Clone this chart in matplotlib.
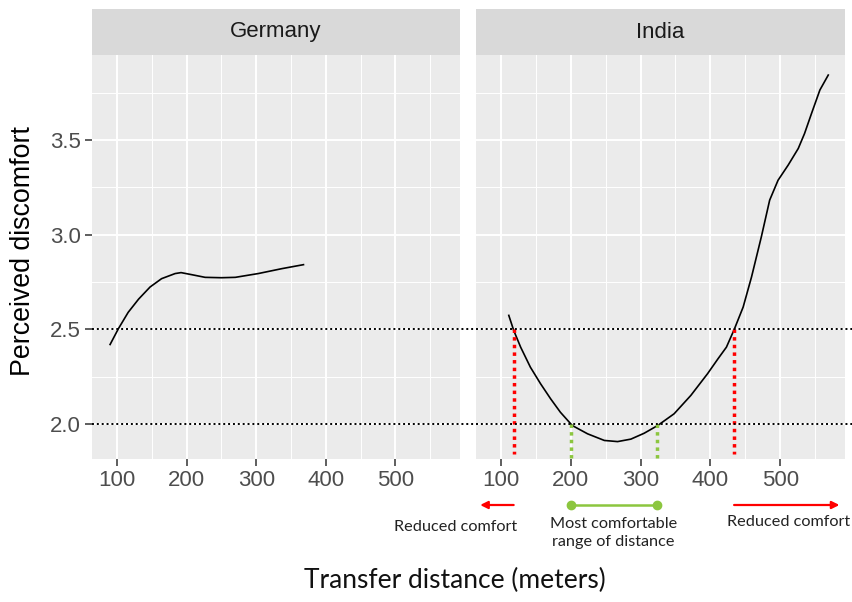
import matplotlib
matplotlib.use("Agg")
import matplotlib.pyplot as plt
from matplotlib.lines import Line2D
from matplotlib.patches import Rectangle
import matplotlib.transforms as mtransforms

# ---------------- data ----------------
panels = ["Germany", "India"]
germany_x = [90, 102, 116, 131, 147.5, 164, 183.5, 192, 207.5, 226.6, 250, 270, 303, 337, 368]
germany_y = [2.42, 2.504, 2.59, 2.66, 2.724, 2.768, 2.795, 2.80, 2.789, 2.775, 2.773, 2.775, 2.795, 2.821, 2.842]
india_x = [111, 118, 128, 142, 156.5, 171, 185, 202, 224, 248, 267, 286, 305, 324.5, 348, 372,
           396, 411, 423, 434, 447, 459, 473, 485, 497, 511.5, 526, 535, 545, 557, 569]
india_y = [2.574, 2.495, 2.406, 2.30, 2.213, 2.133, 2.062, 1.992, 1.948, 1.913, 1.907, 1.92, 1.951,
           1.992, 2.054, 2.151, 2.266, 2.345, 2.406, 2.498, 2.618, 2.777, 2.988, 3.183, 3.288,
           3.368, 3.456, 3.535, 3.641, 3.765, 3.844]
x_ticks = [100, 200, 300, 400, 500]
y_ticks = [2.0, 2.5, 3.0, 3.5]
ref_levels = [2.5, 2.0]
red_marks = [118, 434]
green_marks = [200, 323]

GRAY_BG = "#EBEBEB"
STRIP = "#D9D9D9"
RED = "#FF0000"
GREEN = "#8CC63F"

fig = plt.figure(figsize=(8.53, 6.02), dpi=100)
W, H = 853, 602

def fx(px):
    return px / W

def fy(py):
    return 1 - py / H

bottom = fy(459)
top = fy(55)
axes = []
for (l, r) in [(92, 460), (476, 845)]:
    ax = fig.add_axes([fx(l), bottom, fx(r) - fx(l), top - bottom])
    axes.append(ax)

strip_h = (fy(9) - top) / (top - bottom)

for i, ax in enumerate(axes):
    ax.set_facecolor(GRAY_BG)
    ax.set_xlim(64, 593)
    ax.set_ylim(1.815, 3.95)
    ax.set_xticks(x_ticks)
    ax.set_xticks([150, 250, 350, 450, 550], minor=True)
    ax.set_yticks(y_ticks)
    ax.set_yticks([2.25, 2.75, 3.25, 3.75], minor=True)
    ax.grid(which="major", color="white", linewidth=1.4)
    ax.grid(which="minor", color="white", linewidth=0.7)
    ax.set_axisbelow(True)
    for s in ax.spines.values():
        s.set_visible(False)
    ax.tick_params(axis="x", which="major", length=5, width=1.1, color="#333333",
                   labelsize=16, labelcolor="#4D4D4D", pad=3)
    ax.tick_params(axis="y", which="major", length=5, width=1.1, color="#333333",
                   labelsize=16, labelcolor="#4D4D4D", pad=3)
    ax.tick_params(which="minor", length=0)
    if i == 1:
        ax.tick_params(axis="y", left=False, labelleft=False)
    ax.set_xticklabels([str(v) for v in x_ticks], family="Liberation Sans")
    if i == 0:
        ax.set_yticklabels([f"{v:.1f}" for v in y_ticks], family="Liberation Sans")

    # facet strip
    strip = Rectangle((0, 1.0), 1, strip_h, transform=ax.transAxes,
                      facecolor=STRIP, edgecolor="none", clip_on=False)
    ax.add_patch(strip)
    ax.text(0.5, 1 + strip_h / 2, panels[i], transform=ax.transAxes, ha="center", va="center",
            fontsize=16, color="#1A1A1A", family="Liberation Sans")

axes[0].plot(germany_x, germany_y, color="black", linewidth=1.2)
axes[1].plot(india_x, india_y, color="black", linewidth=1.2)

# vertical markers in India panel
for xv in red_marks:
    axes[1].plot([xv, xv], [2.5, 1.84], color=RED, linestyle=(0, (1, 1.2)), linewidth=2.5)
for xv in green_marks:
    axes[1].plot([xv, xv], [2.0, 1.82], color=GREEN, linestyle=(0, (1, 1.2)), linewidth=2.5)

# horizontal reference lines across both panels
tr = mtransforms.blended_transform_factory(fig.transFigure, axes[0].transData)
for yv in ref_levels:
    fig.add_artist(Line2D([fx(92), 1.0], [yv, yv], transform=tr, color="black",
                          linestyle=(0, (1, 1.5)), linewidth=1.4))

# annotations below India panel
ta = mtransforms.blended_transform_factory(axes[1].transData, fig.transFigure)
ya = fy(505)
axes[1].annotate("", xy=(70, ya), xytext=(118, ya), xycoords=ta, textcoords=ta,
                 arrowprops=dict(arrowstyle="-|>", color=RED, lw=1.6, mutation_scale=11,
                                 shrinkA=0, shrinkB=0), annotation_clip=False)
axes[1].annotate("", xy=(585, ya), xytext=(434, ya), xycoords=ta, textcoords=ta,
                 arrowprops=dict(arrowstyle="-|>", color=RED, lw=1.6, mutation_scale=11,
                                 shrinkA=0, shrinkB=0), annotation_clip=False)
axes[1].plot(green_marks, [ya, ya], transform=ta, color=GREEN, linewidth=1.8,
             marker="o", markersize=6, clip_on=False)

afont = dict(family="Lato", fontsize=11.7, color="#222222")
axes[1].text(34, fy(527), "Reduced comfort", transform=ta, ha="center", va="center", **afont)
axes[1].text(512, fy(522), "Reduced comfort", transform=ta, ha="center", va="center", **afont)
axes[1].text(261, fy(533), "Most comfortable\nrange of distance", transform=ta, ha="center",
             va="center", linespacing=1.3, **afont)

fig.text(fx(455), fy(580), "Transfer distance (meters)", ha="center", va="center",
         fontsize=19, family="Lato", color="#111111")
fig.text(fx(23), fy(251), "Perceived discomfort", ha="center", va="center", rotation=90,
         fontsize=19.3, family="Liberation Sans", color="black")

fig.savefig("out.png", dpi=100)
